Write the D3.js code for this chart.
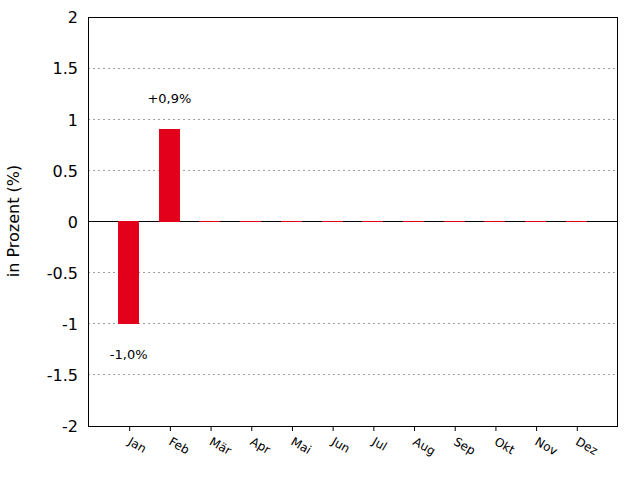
<!DOCTYPE html>
<html><head><meta charset="utf-8">
<script src="https://cdn.jsdelivr.net/npm/d3@7"></script>
<style>body{margin:0;background:#fff}svg{display:block}text{font-family:"DejaVu Sans",sans-serif}</style>
</head><body><svg id="c" width="640" height="480"></svg>
<script>
const months = ["Jan","Feb","Mär","Apr","Mai","Jun","Jul","Aug","Sep","Okt","Nov","Dez"];
const values = [-1.0, 0.9, 0, 0, 0, 0, 0, 0, 0, 0, 0, 0];
const valueLabels = ["-1,0%", "+0,9%", "", "", "", "", "", "", "", "", "", ""];
const yTicks = [-2, -1.5, -1, -0.5, 0, 0.5, 1, 1.5, 2];
const yTitle = "in Prozent (%)";

const svg = d3.select("#c");
const L = 88, R = 617, T = 17, B = 426;
const x = d3.scaleLinear().domain([0, 13]).range([L, R]);
const y = d3.scaleLinear().domain([-2, 2]).range([B, T]);
const bw = 0.52;
const red = "#e3001b";

// grid
svg.append("g").selectAll("line").data(yTicks.filter(v => v !== 0 && v !== 2 && v !== -2)).join("line")
  .attr("x1", L).attr("x2", R).attr("y1", d => Math.floor(y(d)) + 0.5).attr("y2", d => Math.floor(y(d)) + 0.5)
  .attr("stroke", "#a0a0a0").attr("stroke-width", 1).attr("stroke-dasharray", "2,3");

// zero axis
const y0 = Math.floor(y(0));
svg.append("line").attr("x1", L).attr("x2", R).attr("y1", y0 + 0.5).attr("y2", y0 + 0.5)
  .attr("stroke", "#000").attr("stroke-width", 1);

// bars
svg.append("g").selectAll("rect").data(values).join("rect")
  .attr("shape-rendering", "crispEdges")
  .attr("x", (d, i) => Math.round(x(i + 1 - bw / 2)))
  .attr("width", Math.round(x(bw) - x(0)))
  .attr("y", d => d >= 0 ? Math.floor(y(d)) : y0)
  .attr("height", d => Math.max(1, Math.abs(Math.floor(y(d)) - y0) + 1))
  .attr("fill", red);

// value labels
svg.append("g").selectAll("text").data(values).join("text")
  .attr("x", (d, i) => x(i + 1))
  .attr("y", d => y(d + (d >= 0 ? 0.3 : -0.3)) + 4.5)
  .attr("text-anchor", "middle").attr("font-size", 13).attr("fill", "#000")
  .text((d, i) => valueLabels[i]);

// frame
svg.append("rect").attr("x", L + 0.5).attr("y", T + 0.5).attr("width", R - L).attr("height", B - T)
  .attr("fill", "none").attr("stroke", "#000").attr("stroke-width", 1);

// y axis labels
const ya = svg.append("g").attr("transform", `translate(${L},0)`)
  .call(d3.axisLeft(y).tickValues(yTicks).tickSize(0).tickPadding(10).tickFormat(d => String(d)));
ya.select(".domain").remove();
ya.selectAll("text").attr("font-size", 16).attr("fill", "#000").attr("font-family", "DejaVu Sans, sans-serif")
  .attr("dy", "0.36em");

// x axis
const xa = svg.append("g").attr("transform", `translate(0,${B})`)
  .call(d3.axisBottom(x).tickValues(d3.range(1, 13)).tickSize(5).tickFormat(d => months[d - 1]));
xa.select(".domain").remove();
xa.selectAll("line").attr("stroke", "#000").attr("transform", "translate(0.5,0)");
xa.selectAll("text").attr("font-size", 12).attr("fill", "#000").attr("font-family", "DejaVu Sans, sans-serif")
  .attr("text-anchor", "start").attr("dy", null).attr("y", 0)
  .attr("transform", "translate(-2,18) rotate(30)");

// y title
svg.append("text").attr("transform", `translate(19,221) rotate(-90)`)
  .attr("text-anchor", "middle").attr("font-size", 16).attr("fill", "#000").text(yTitle);
</script></body></html>
